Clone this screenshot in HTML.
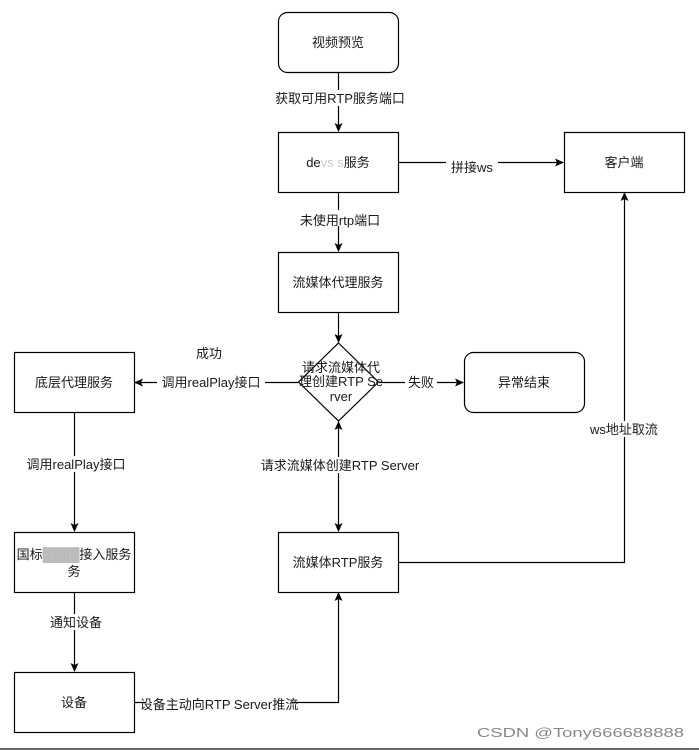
<!DOCTYPE html>
<html><head><meta charset="utf-8"><style>
html,body{margin:0;padding:0;background:#fff;}
svg{display:block;}
text{font-family:"Liberation Sans","Noto Sans CJK SC",sans-serif;font-size:13px;fill:#1a1a1a;}
</style></head><body>
<svg width="699" height="750" viewBox="0 0 699 750" xmlns="http://www.w3.org/2000/svg">
<defs><marker id="a" markerWidth="10" markerHeight="10" refX="8" refY="5" orient="auto" markerUnits="userSpaceOnUse"><path d="M0,1 L9,5 L0,9 L2,5 Z" fill="#000"/></marker></defs>
<g fill="#fff" stroke="#000" stroke-width="1.2">
<rect x="278.5" y="12.5" width="120" height="60" rx="9"/>
<rect x="278.5" y="132.5" width="120" height="60"/>
<rect x="564.5" y="132.5" width="120" height="60"/>
<rect x="278.5" y="252.5" width="120" height="60"/>
<path d="M338.5,343 L378.5,382 L338.5,421 L298.5,382 Z"/>
<rect x="14.5" y="352.5" width="120" height="60"/>
<rect x="464.5" y="352.5" width="120" height="60" rx="9"/>
<rect x="14.5" y="532.5" width="120" height="60"/>
<rect x="278.5" y="532.5" width="120" height="60"/>
<rect x="14.5" y="672.5" width="120" height="60"/>
</g>
<g stroke="#000" stroke-width="1.2" fill="none">
<line x1="338.5" y1="72" x2="338.5" y2="131" marker-end="url(#a)"/>
<line x1="338.5" y1="192" x2="338.5" y2="251" marker-end="url(#a)"/>
<line x1="398" y1="162.5" x2="563" y2="162.5" marker-end="url(#a)"/>
<line x1="338.5" y1="312" x2="338.5" y2="342" marker-end="url(#a)"/>
<line x1="298" y1="382.5" x2="135" y2="382.5" marker-end="url(#a)"/>
<line x1="379" y1="382.5" x2="463" y2="382.5" marker-end="url(#a)"/>
<line x1="74.5" y1="412" x2="74.5" y2="531" marker-end="url(#a)"/>
<line x1="74.5" y1="592" x2="74.5" y2="671" marker-end="url(#a)"/>
<line x1="338.5" y1="470" x2="338.5" y2="422" marker-end="url(#a)"/>
<line x1="338.5" y1="470" x2="338.5" y2="531" marker-end="url(#a)"/>
<polyline points="134,702.5 338.5,702.5 338.5,593" marker-end="url(#a)"/>
<polyline points="398,562.5 624.5,562.5 624.5,193" marker-end="url(#a)"/>
</g>
<g text-anchor="middle">
<text x="338" y="47">视频预览</text>
<text x="338" y="167">de<tspan fill="#ccc">vs  s</tspan>服务</text>
<text x="624" y="167">客户端</text>
<text x="338" y="287">流媒体代理服务</text>
<text x="74" y="387">底层代理服务</text>
<text x="524" y="387">异常结束</text>
<text x="74" y="559">国标<tspan fill="#bbb">████</tspan>接入服务</text>
<text x="74" y="576">务</text>
<text x="338" y="567">流媒体RTP服务</text>
<text x="74" y="707">设备</text>
<text x="341" y="372" font-size="12">请求流媒体代</text>
<text x="341" y="386" font-size="12">理创建RTP Se</text>
<text x="341" y="401" font-size="12">rver</text>
</g>
<g text-anchor="middle">
<rect x="270" y="90" width="142" height="16" fill="#fff"/>
<text x="340" y="103">获取可用RTP服务端口</text>
<rect x="294" y="210" width="90" height="16" fill="#fff"/>
<text x="340" y="225">未使用rtp端口</text>
<rect x="446" y="159" width="52" height="16" fill="#fff"/>
<text x="472" y="172">拼接ws</text>
<text x="209" y="358">成功</text>
<rect x="157" y="374" width="108" height="16" fill="#fff"/>
<text x="211" y="387">调用realPlay接口</text>
<rect x="405" y="374" width="32" height="16" fill="#fff"/>
<text x="421" y="387">失败</text>
<rect x="22" y="456" width="106" height="16" fill="#fff"/>
<text x="76" y="469">调用realPlay接口</text>
<rect x="252" y="457" width="176" height="16" fill="#fff"/>
<text x="340" y="470">请求流媒体创建RTP Server</text>
<rect x="586" y="421" width="76" height="16" fill="#fff"/>
<text x="624" y="434">ws地址取流</text>
<rect x="46" y="614" width="60" height="16" fill="#fff"/>
<text x="76" y="627">通知设备</text>
<rect x="146" y="697" width="146" height="14" fill="#fff"/>
<text x="219" y="709" font-size="11.5">设备主动向RTP Server推流</text>
</g>
<text x="477" y="737" font-size="17" textLength="207" lengthAdjust="spacingAndGlyphs" style="fill:#888">CSDN @Tony666688888</text>
<rect x="0" y="748" width="699" height="2" fill="#666"/>
</svg>
</body></html>
